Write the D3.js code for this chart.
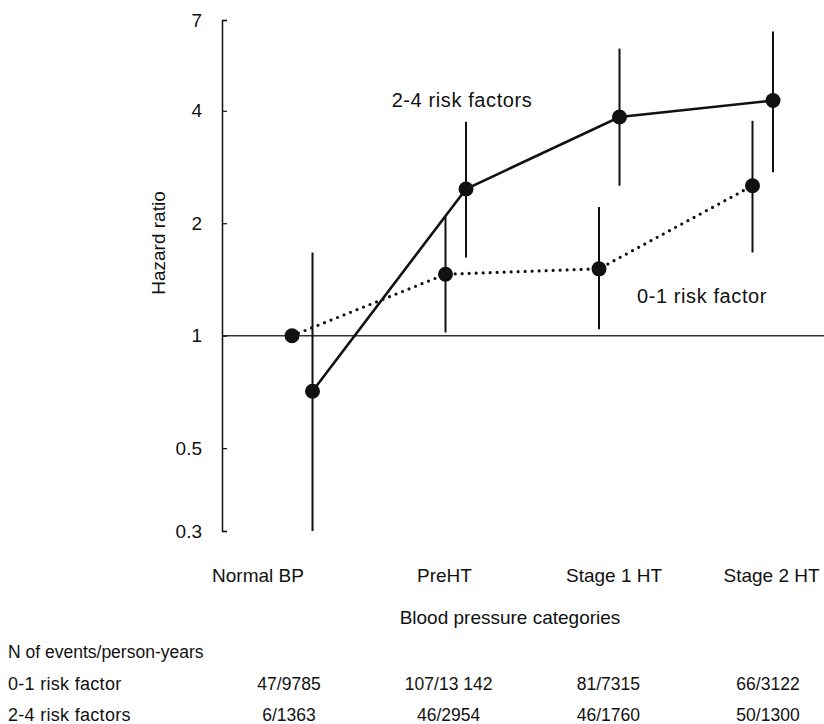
<!DOCTYPE html>
<html>
<head>
<meta charset="utf-8">
<script src="https://cdn.jsdelivr.net/npm/d3@7"></script>
<style>
  body { margin: 0; background: #fff; }
  svg text { font-family: "Liberation Sans", Arial, sans-serif; fill: #111; }
</style>
</head>
<body>
<div id="chart"></div>
<script>
// categories on the x axis
const categories = ["Normal BP", "PreHT", "Stage 1 HT", "Stage 2 HT"];

// 0-1 risk factor (dotted line), hazard ratio and 95% CI
const hrLow = [1.0, 1.46, 1.51, 2.52];
const ciLowLo = [null, 1.02, 1.04, 1.67];
const ciLowHi = [null, 2.08, 2.21, 3.76];

// 2-4 risk factors (solid line)
const hrHigh = [0.71, 2.47, 3.85, 4.26];
const ciHighLo = [0.3, 1.62, 2.52, 2.74];
const ciHighHi = [1.67, 3.74, 5.87, 6.52];

const yTicks = [0.3, 0.5, 1, 2, 4, 7];

// table under the chart
const tableTitle = "N of events/person-years";
const rowNames = ["0-1 risk factor", "2-4 risk factors"];
const events01 = ["47/9785", "107/13 142", "81/7315", "66/3122"];
const events24 = ["6/1363", "46/2954", "46/1760", "50/1300"];

const W = 824, H = 724;
const svg = d3.select("#chart").append("svg")
    .attr("width", W).attr("height", H);

const axisX = 222;
const y = d3.scaleLog().domain([0.3, 7]).range([531, 20]);
const x = d3.scalePoint().domain(categories).range([302.5, 763]);
const xGroup = d3.scalePoint().domain(["0-1", "2-4"]).range([-10.5, 10]);

// reference line at HR = 1
svg.append("line")
    .attr("x1", axisX).attr("x2", W)
    .attr("y1", y(1)).attr("y2", y(1))
    .attr("stroke", "#333").attr("stroke-width", 1.5);

// y axis, ticks pointing inward
const yAxis = svg.append("g")
    .attr("transform", "translate(" + axisX + ",0)")
    .call(d3.axisRight(y).tickValues(yTicks).tickSize(5).tickFormat(d3.format("")));
yAxis.select(".domain").attr("stroke", "#111").attr("stroke-width", 1.5);
yAxis.selectAll(".tick line").attr("stroke", "#111").attr("stroke-width", 1.2);
yAxis.selectAll(".tick text")
    .attr("x", -20).attr("text-anchor", "end")
    .style("font-size", "19px");

svg.append("text")
    .attr("transform", "translate(165," + 243 + ") rotate(-90)")
    .attr("text-anchor", "middle")
    .style("font-size", "19px")
    .text("Hazard ratio");

// build series
const series = [
  {key: "0-1", hr: hrLow, lo: ciLowLo, hi: ciLowHi, dash: "0,7", width: 3.2},
  {key: "2-4", hr: hrHigh, lo: ciHighLo, hi: ciHighHi, dash: null, width: 2.6}
];

const line = d3.line()
    .x(d => x(d.cat) + xGroup(d.key))
    .y(d => y(d.hr));

series.forEach(s => {
  const pts = categories.map((c, i) => ({cat: c, key: s.key, hr: s.hr[i], lo: s.lo[i], hi: s.hi[i]}));

  // CI whiskers
  svg.append("g").selectAll("line")
    .data(pts.filter(d => d.lo != null))
    .enter().append("line")
      .attr("x1", d => x(d.cat) + xGroup(d.key))
      .attr("x2", d => x(d.cat) + xGroup(d.key))
      .attr("y1", d => y(d.lo))
      .attr("y2", d => y(d.hi))
      .attr("stroke", "#111").attr("stroke-width", 2);

  svg.append("path")
    .datum(pts)
    .attr("d", line)
    .attr("fill", "none")
    .attr("stroke", "#111")
    .attr("stroke-width", s.width)
    .attr("stroke-linecap", s.dash ? "round" : "butt")
    .attr("stroke-dasharray", s.dash);

  svg.append("g").selectAll("circle")
    .data(pts)
    .enter().append("circle")
      .attr("cx", d => x(d.cat) + xGroup(d.key))
      .attr("cy", d => y(d.hr))
      .attr("r", 7.5)
      .attr("fill", "#111");
});

// series labels
svg.append("text").attr("x", 462).attr("y", 107)
    .attr("text-anchor", "middle").style("font-size", "20px")
    .style("letter-spacing", "0.6px")
    .text("2-4 risk factors");
svg.append("text").attr("x", 702).attr("y", 303)
    .attr("text-anchor", "middle").style("font-size", "20px")
    .style("letter-spacing", "0.6px")
    .text("0-1 risk factor");

// x axis labels (no axis line)
const labelNudge = [-45, -12, 4, 8];
const xAxis = svg.append("g")
    .attr("transform", "translate(0,560)")
    .call(d3.axisBottom(x).tickSize(0));
xAxis.select(".domain").remove();
xAxis.selectAll(".tick text")
    .attr("dy", 0).attr("y", 22)
    .attr("dx", (d, i) => labelNudge[i])
    .style("font-size", "19px");

svg.append("text").attr("x", 510).attr("y", 624)
    .attr("text-anchor", "middle").style("font-size", "19px")
    .text("Blood pressure categories");

// events table
const colX = d3.scalePoint().domain(categories).range([289, 768]);
svg.append("text").attr("x", 8).attr("y", 658)
    .style("font-size", "17.5px").text(tableTitle);

[events01, events24].forEach((row, r) => {
  const ry = 690 + r * 31;
  svg.append("text").attr("x", 8).attr("y", ry)
      .style("font-size", "18px")
      .style("letter-spacing", "0.3px")
      .text(rowNames[r]);
  svg.append("g").selectAll("text")
    .data(row)
    .enter().append("text")
      .attr("x", (d, i) => colX(categories[i]))
      .attr("y", ry)
      .attr("text-anchor", "middle")
      .style("font-size", "17.5px")
      .text(d => d);
});
</script>
</body>
</html>
